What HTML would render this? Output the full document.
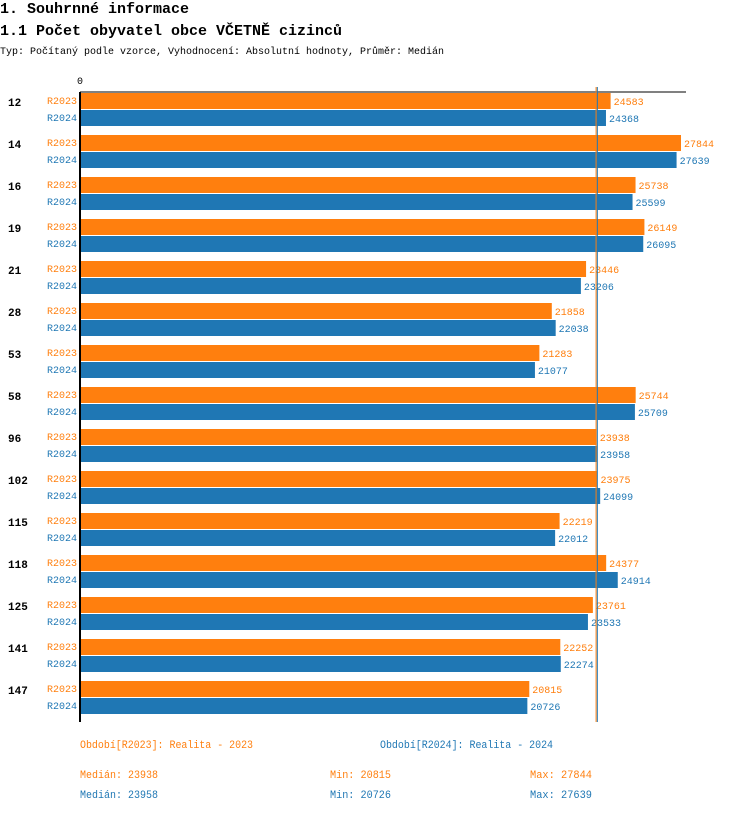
<!DOCTYPE html>
<html><head><meta charset="utf-8"><style>
body{margin:0;background:#fff;width:750px;height:812px;overflow:hidden;font-family:"Liberation Mono","DejaVu Sans Mono",monospace}
</style></head><body>
<svg id="c" width="750" height="812" xmlns="http://www.w3.org/2000/svg" font-family="Liberation Mono, DejaVu Sans Mono, monospace">
<text x="0" y="13" font-size="15" font-weight="bold">1. Souhrnné informace</text>
<text x="0" y="35" font-size="15" font-weight="bold">1.1 Počet obyvatel obce VČETNĚ cizinců</text>
<text x="0" y="54" font-size="10.5" textLength="444" lengthAdjust="spacingAndGlyphs">Typ: Počítaný podle vzorce, Vyhodnocení: Absolutní hodnoty, Průměr: Medián</text>
<text x="80" y="84" font-size="10" text-anchor="middle">0</text>
<g id="bars"></g>
<line x1="80" y1="92" x2="686" y2="92" stroke="#000" stroke-width="1"/>
<line x1="80" y1="92" x2="80" y2="722" stroke="#000" stroke-width="2"/>
<g id="med"></g>
<g font-size="11" lengthAdjust="spacingAndGlyphs">
<text x="80" y="748" fill="#ff7f0e" textLength="173" lengthAdjust="spacingAndGlyphs">Období[R2023]: Realita - 2023</text>
<text x="380" y="748" fill="#1f77b4" textLength="173" lengthAdjust="spacingAndGlyphs">Období[R2024]: Realita - 2024</text>
<text x="80" y="778" fill="#ff7f0e" textLength="78" lengthAdjust="spacingAndGlyphs">Medián: 23938</text>
<text x="330" y="778" fill="#ff7f0e" textLength="61" lengthAdjust="spacingAndGlyphs">Min: 20815</text>
<text x="530" y="778" fill="#ff7f0e" textLength="62" lengthAdjust="spacingAndGlyphs">Max: 27844</text>
<text x="80" y="798" fill="#1f77b4" textLength="78" lengthAdjust="spacingAndGlyphs">Medián: 23958</text>
<text x="330" y="798" fill="#1f77b4" textLength="61" lengthAdjust="spacingAndGlyphs">Min: 20726</text>
<text x="530" y="798" fill="#1f77b4" textLength="62" lengthAdjust="spacingAndGlyphs">Max: 27639</text>
</g>
</svg>
<script>
const categories=["12","14","16","19","21","28","53","58","96","102","115","118","125","141","147"];
const r2023=[24583,27844,25738,26149,23446,21858,21283,25744,23938,23975,22219,24377,23761,22252,20815];
const r2024=[24368,27639,25599,26095,23206,22038,21077,25709,23958,24099,22012,24914,23533,22274,20726];
const medians=[23938,23958];
const NS="http://www.w3.org/2000/svg";
const x0=80, xMax=27844, wMax=601;
function xs(v){return x0+v/xMax*wMax;}
function ys(i){return 93+i*42;}
const g=document.getElementById('bars');
function mk(t,a){const e=document.createElementNS(NS,t);for(const k in a)e.setAttribute(k,a[k]);return e;}
categories.forEach((c,i)=>{
  const y=ys(i);
  const lab=mk('text',{x:8,y:y+13,'font-size':11,'font-weight':'bold'});lab.textContent=c;
  
  
  g.appendChild(lab);
  [[r2023,'#ff7f0e','R2023',0],[r2024,'#1f77b4','R2024',17]].forEach(([arr,col,nm,off])=>{
    const yy=y+off;
    const s=mk('text',{x:77,y:yy+11,'font-size':10,fill:col,'text-anchor':'end'});s.textContent=nm;
    
    
    g.appendChild(s);
    const r=mk('rect',{x:x0,y:yy,width:xs(arr[i])-x0,height:16,fill:col});
    
    
    g.appendChild(r);
    const v=mk('text',{x:xs(arr[i])+3,y:yy+12,'font-size':10,fill:col});v.textContent=arr[i];
    
    
    g.appendChild(v);
  });
});
const m=document.getElementById('med');
[['#ff7f0e',medians[0],-0.6],['#1f77b4',medians[1],0.2]].forEach(([col,v,d])=>{
  const l=mk('line',{x1:xs(v)+d,x2:xs(v)+d,y1:87,y2:722,stroke:col,'stroke-width':1});
  
  
  m.appendChild(l);
});
</script>
</body></html>
